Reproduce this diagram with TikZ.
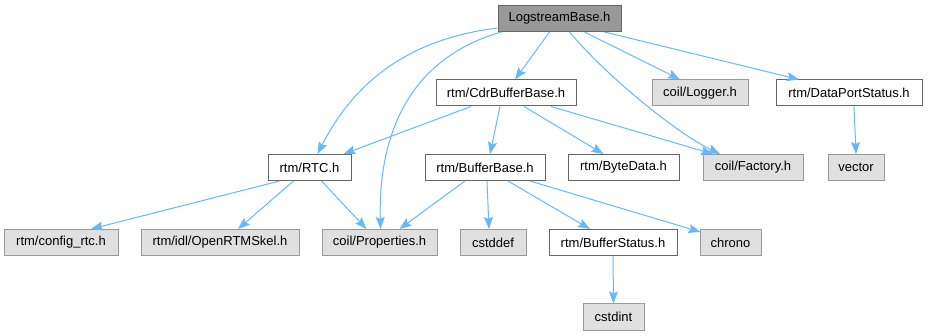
\documentclass[tikz,border=0pt]{standalone}
\usepackage{fontspec}
\setmainfont{Liberation Sans}
\usetikzlibrary{arrows.meta}
\definecolor{edgec}{HTML}{63B8FF}
\definecolor{grayfill}{HTML}{E0E0E0}
\definecolor{grayline}{HTML}{999999}
\definecolor{darkline}{HTML}{666666}
\definecolor{rootfill}{HTML}{999999}
\tikzset{
  box/.style={draw, line width=1pt, inner sep=0pt, minimum height=26pt, font=\fontsize{13}{15}\selectfont, text=black},
  sysbox/.style={box, draw=grayline, fill=grayfill},
  usrbox/.style={box, draw=darkline, fill=white},
  rootbox/.style={box, draw=darkline, fill=rootfill},
  dep/.style={draw=edgec, line width=1pt, -{Stealth[length=12pt,width=9pt,inset=2pt]}}
}
\begin{document}
\begin{tikzpicture}[x=1pt,y=-1pt]
\useasboundingbox (0,0) rectangle (928,336);
\node[rootbox, minimum width=123pt] (root) at (559.5,18.5) {LogstreamBase.h};
\node[usrbox, minimum width=140pt] (cdr) at (506,93) {rtm/CdrBufferBase.h};
\node[sysbox, minimum width=96pt] (logger) at (700,93) {coil/Logger.h};
\node[usrbox, minimum width=146pt] (dps) at (849,93) {rtm/DataPortStatus.h};
\node[usrbox, minimum width=83pt] (rtc) at (309.5,167.5) {rtm/RTC.h};
\node[usrbox, minimum width=120pt] (bb) at (485,167.5) {rtm/BufferBase.h};
\node[usrbox, minimum width=111pt] (bd) at (623.5,167.5) {rtm/ByteData.h};
\node[sysbox, minimum width=100pt] (fac) at (753,167.5) {coil/Factory.h};
\node[sysbox, minimum width=56pt] (vec) at (856,167.5) {vector};
\node[sysbox, minimum width=114pt] (cfg) at (61,242.5) {rtm/config\_rtc.h};
\node[sysbox, minimum width=158pt] (skel) at (220,242.5) {rtm/idl/OpenRTMSkel.h};
\node[sysbox, minimum width=115pt] (prop) at (379.5,242.5) {coil/Properties.h};
\node[sysbox, minimum width=66pt] (cstddef) at (493,242.5) {cstddef};
\node[usrbox, minimum width=128pt] (bs) at (613,242.5) {rtm/BufferStatus.h};
\node[sysbox, minimum width=61pt] (chrono) at (730.5,242.5) {chrono};
\node[sysbox, minimum width=61pt] (cstdint) at (613.5,317) {cstdint};

\draw[dep] ([yshift=4pt]root.south west) .. controls (400,40) and (350,90) .. ([xshift=8pt]rtc.north);
\draw[dep] ([xshift=-58pt]root.south) .. controls (420,55) and (378,120) .. ([xshift=1pt]prop.north);
\draw[dep] ([xshift=-10pt]root.south) -- ([xshift=9pt]cdr.north);
\draw[dep] ([xshift=10pt]root.south) .. controls (610,80) and (680,135) .. ([xshift=-33pt]fac.north);
\draw[dep] ([xshift=25pt]root.south) -- ([xshift=-20pt]logger.north);
\draw[dep] ([xshift=45pt]root.south) -- ([xshift=-50pt]dps.north);
\draw[dep] ([xshift=-35pt]cdr.south) -- ([xshift=34pt]rtc.north);
\draw[dep] ([xshift=-6pt]cdr.south) -- ([xshift=5pt]bb.north);
\draw[dep] ([xshift=18pt]cdr.south) -- ([xshift=-20pt]bd.north);
\draw[dep] ([xshift=45pt]cdr.south) -- ([xshift=-40pt]fac.north);
\draw[dep] ([xshift=5pt]dps.south) -- (vec.north);
\draw[dep] ([xshift=-30pt]rtc.south) -- ([xshift=30pt]cfg.north);
\draw[dep] ([xshift=-16pt]rtc.south) -- ([xshift=18pt]skel.north);
\draw[dep] ([xshift=12pt]rtc.south) -- ([xshift=-13pt]prop.north);
\draw[dep] ([xshift=-20pt]bb.south) -- ([xshift=20pt]prop.north);
\draw[dep] ([xshift=2pt]bb.south) -- ([xshift=-4pt]cstddef.north);
\draw[dep] ([xshift=23pt]bb.south) -- ([xshift=-23pt]bs.north);
\draw[dep] ([xshift=45pt]bb.south) -- ([xshift=1pt,yshift=-3pt]chrono.north west);
\draw[dep] (bs.south) -- (cstdint.north);
\end{tikzpicture}
\end{document}
